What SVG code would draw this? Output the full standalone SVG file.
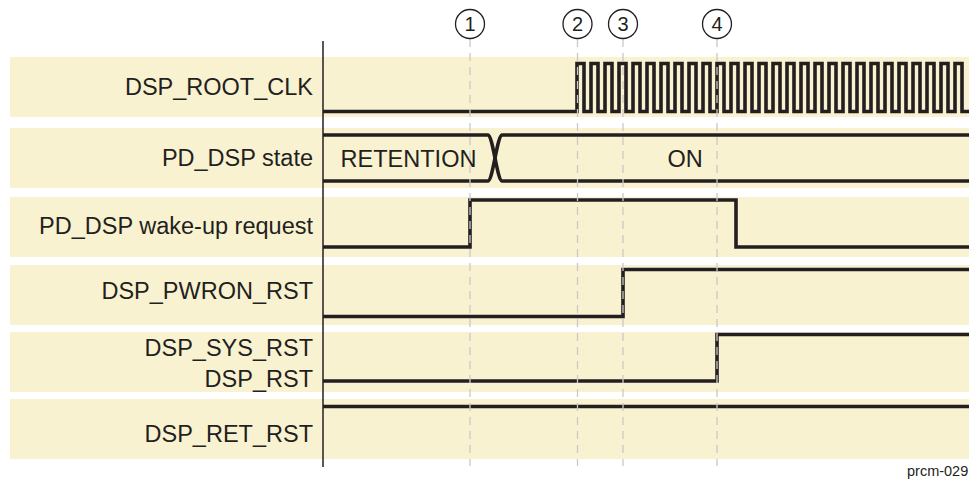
<svg xmlns="http://www.w3.org/2000/svg" width="969" height="485" viewBox="0 0 969 485">
<style>
.band{fill:#f9f2d0}
.lbl{font-family:"Liberation Sans",Arial,sans-serif;font-size:23.5px;fill:#231f20;text-anchor:end}
.val{font-family:"Liberation Sans",Arial,sans-serif;font-size:23.5px;fill:#231f20;text-anchor:middle}
.sig{fill:none;stroke:#231f20;stroke-width:3.6;stroke-linejoin:miter}
.dash{stroke:#c9c9c9;stroke-width:1.3;stroke-dasharray:8 6;fill:none}
.mk{fill:#fff;stroke:#231f20;stroke-width:1.3}
.num{font-family:"Liberation Sans",Arial,sans-serif;font-size:20px;fill:#231f20;text-anchor:middle}
</style>
<rect width="969" height="485" fill="#fff"/>
<g id="bands">
<rect class="band" x="10" y="57" width="959" height="60"/>
<rect class="band" x="10" y="128" width="959" height="60"/>
<rect class="band" x="10" y="197" width="959" height="60"/>
<rect class="band" x="10" y="265" width="959" height="60"/>
<rect class="band" x="10" y="332" width="959" height="60"/>
<rect class="band" x="10" y="399" width="959" height="60"/>
</g>
<g id="labels">
<text class="lbl" x="313" y="95">DSP_ROOT_CLK</text>
<text class="lbl" x="313" y="166">PD_DSP state</text>
<text class="lbl" x="313" y="234">PD_DSP wake-up request</text>
<text class="lbl" x="313" y="299">DSP_PWRON_RST</text>
<text class="lbl" x="313" y="356">DSP_SYS_RST</text>
<text class="lbl" x="313" y="387">DSP_RST</text>
<text class="lbl" x="313" y="442">DSP_RET_RST</text>
</g>
<line id="axis" x1="323" y1="41" x2="323" y2="467" stroke="#231f20" stroke-width="1.5"/>
<g id="signals">
<path id="clk" class="sig" d="M323,111.5 H577
v-48 h7 v48 h7 v-48 h7 v48 h7 v-48 h7 v48 h7 v-48 h7 v48 h7
v-48 h7 v48 h7 v-48 h7 v48 h7 v-48 h7 v48 h7 v-48 h7 v48 h7
v-48 h7 v48 h7 v-48 h7 v48 h7 v-48 h7 v48 h7 v-48 h7 v48 h7
v-48 h7 v48 h7 v-48 h7 v48 h7 v-48 h7 v48 h7 v-48 h7 v48 h7
v-48 h7 v48 h7 v-48 h7 v48 h7 v-48 h7 v48 h7 v-48 h7 v48 h7
v-48 h7 v48 h7 v-48 h7 v48 h7 v-48 h7 v48 h7 v-48 h7 v48 h7
v-48 h7 v48 h7 v-48 h7 v48 h7 v-48 h7 v48 h7 v-48 h7 v48 h7"/>
<g id="state">
<path class="sig" d="M323,135 H488 C493,136 497,180 502,181 H969"/>
<path class="sig" d="M323,181 H488 C493,180 497,136 502,135 H969"/>
<text class="val" x="408.5" y="166.5">RETENTION</text>
<text class="val" x="685" y="166.5">ON</text>
</g>
<path id="wakeup" class="sig" d="M323,247 H470 V200 H736 V247 H969"/>
<path id="pwron" class="sig" d="M323,316.5 H623 V269.5 H969"/>
<path id="sysrst" class="sig" d="M323,381 H717 V334.5 H969"/>
<path id="retrst" class="sig" d="M323,406.5 H969"/>
</g>
<g id="markers">
<line class="dash" x1="470" y1="39" x2="470" y2="466"/>
<line class="dash" x1="577.5" y1="39" x2="577.5" y2="466"/>
<line class="dash" x1="623" y1="39" x2="623" y2="466"/>
<line class="dash" x1="717" y1="39" x2="717" y2="466"/>
<g id="m1"><circle class="mk" cx="470" cy="24" r="14.5"/><text class="num" x="470" y="31">1</text></g>
<g id="m2"><circle class="mk" cx="577.5" cy="24" r="14.5"/><text class="num" x="577.5" y="31">2</text></g>
<g id="m3"><circle class="mk" cx="623" cy="24" r="14.5"/><text class="num" x="623" y="31">3</text></g>
<g id="m4"><circle class="mk" cx="717" cy="24" r="14.5"/><text class="num" x="717" y="31">4</text></g>
</g>
<text x="907" y="476" font-family="'Liberation Sans',Arial,sans-serif" font-size="14.5" fill="#231f20">prcm-029</text>
</svg>
